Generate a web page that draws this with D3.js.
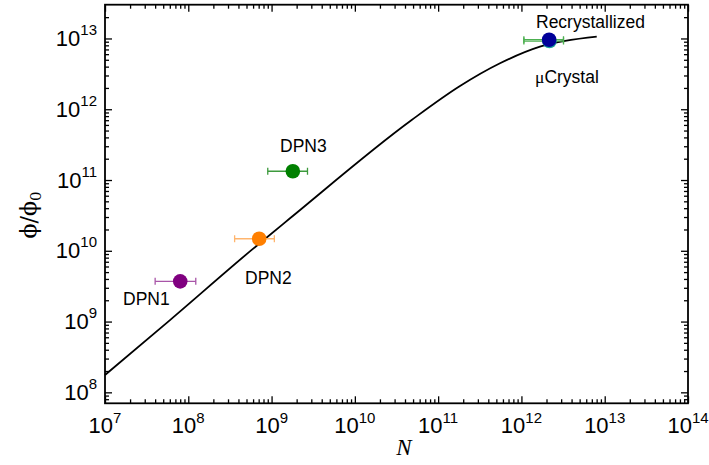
<!DOCTYPE html>
<html>
<head>
<meta charset="utf-8">
<script src="https://cdn.jsdelivr.net/npm/d3@7"></script>
<style>
  html, body { margin: 0; padding: 0; background: #fff; }
  svg { display: block; }
  text { font-family: "Liberation Sans", Arial, sans-serif; fill: #000; }
</style>
</head>
<body>
<svg id="chart" width="709" height="465"></svg>
<script>
// Model curve: phi/phi0 versus N
const curveN   = [1e7, 6.03e7, 5.77e8, 1.665e9, 4.81e10, 1.83e11, 5.53e11, 1.67e12, 8.02e12];
const curvePhi = [1.76e8, 1.05e9, 1.03e10, 2.88e10, 7.05e11, 2.13e12, 4.46e12, 7.66e12, 1.06e13];

// Measured samples
const sampleNames  = ["DPN1", "DPN2", "DPN3", "\u03BCCrystal", "Recrystallized"];
const sampleN      = [8e7, 7.1e8, 1.8e9, 2.17e12, 2.15e12];
const samplePhi    = [3.7e9, 1.48e10, 1.33e11, 9.2e12, 9.6e12];
const sampleNLow   = [4e7, 3.6e8, 9e8, 1.07e12, 1.07e12];
const sampleNHigh  = [1.23e8, 1.08e9, 2.7e9, 3.2e12, 3.2e12];
const sampleColors = ["#800080", "#ff7f00", "#008000", "#1aa39a", "#000099"];
const errColors    = ["#a855a8", "#ffb56e", "#3d9a3d", "#4caf50", "#4caf50"];

// Axis tick values
const xMajor = [1e7, 1e8, 1e9, 1e10, 1e11, 1e12, 1e13, 1e14];
const xExp   = [7, 8, 9, 10, 11, 12, 13, 14];
const yMajor = [1e8, 1e9, 1e10, 1e11, 1e12, 1e13];
const yExp   = [8, 9, 10, 11, 12, 13];

const svg = d3.select("#chart");
const L = 105, R = 688, T = 4.7, B = 403.3;

const x = d3.scaleLog().domain([1e7, 1e14]).range([L, R]);
const y = d3.scaleLog().domain([7e7, 3e13]).range([B, T]);

function minors(lo, hi) {
  const out = [];
  for (let e = Math.floor(Math.log10(lo)); e <= Math.ceil(Math.log10(hi)); e++) {
    for (let m = 2; m <= 9; m++) {
      const v = m * Math.pow(10, e);
      if (v > lo && v < hi) out.push(v);
    }
  }
  return out;
}
const xMinor = minors(1e7, 1e14);
const yMinor = minors(7e7, 3e13);

function styleAxis(g) {
  g.select(".domain").remove();
  g.selectAll("line").attr("stroke", "#000").attr("stroke-width", 1.3);
}

// Inward ticks on all four sides
const axes = [
  [d3.axisBottom(x), `translate(0,${B})`, xMajor, xMinor],
  [d3.axisTop(x), `translate(0,${T})`, xMajor, xMinor],
  [d3.axisLeft(y), `translate(${L},0)`, yMajor, yMinor],
  [d3.axisRight(y), `translate(${R},0)`, yMajor, yMinor]
];
axes.forEach(([ax, tr, maj, min]) => {
  svg.append("g").attr("transform", tr)
    .call(ax.tickValues(maj).tickSize(-7).tickFormat(""))
    .call(styleAxis);
  svg.append("g").attr("transform", tr)
    .call(ax.tickValues(min).tickSize(-4).tickFormat(""))
    .call(styleAxis);
});

// Frame
svg.append("rect")
  .attr("x", L).attr("y", T).attr("width", R - L).attr("height", B - T)
  .attr("fill", "none").attr("stroke", "#000").attr("stroke-width", 1.8);

// X tick labels
svg.append("g").selectAll("text").data(xMajor).join("text")
  .attr("x", d => x(d)).attr("y", 433.3).attr("text-anchor", "middle")
  .each(function(d, i) {
    const t = d3.select(this);
    t.append("tspan").attr("font-size", 22).text("10");
    t.append("tspan").attr("font-size", 15).attr("dy", -10).text(xExp[i]);
  });

// Y tick labels
svg.append("g").selectAll("text").data(yMajor).join("text")
  .attr("x", 97).attr("y", d => y(d) + 7.5).attr("text-anchor", "end")
  .each(function(d, i) {
    const t = d3.select(this);
    t.append("tspan").attr("font-size", 22).text("10");
    t.append("tspan").attr("font-size", 15).attr("dy", -11).text(yExp[i]);
  });

// Axis titles
svg.append("text")
  .attr("x", 404).attr("y", 455).attr("text-anchor", "middle")
  .style("font-family", "'Liberation Serif', 'Times New Roman', serif")
  .style("font-style", "italic").attr("font-size", 23).text("N");

const yt = svg.append("text")
  .attr("transform", "translate(36,215) rotate(-90)")
  .attr("text-anchor", "middle")
  .style("font-family", "'DejaVu Serif', 'Liberation Serif', serif")
  .attr("font-size", 22);
yt.append("tspan").text("\u03D5/\u03D5");
yt.append("tspan").attr("font-size", 15).attr("dy", 5).text("0");

// Model curve
const line = d3.line().x((d, i) => x(curveN[i])).y((d, i) => y(curvePhi[i])).curve(d3.curveMonotoneX);
svg.append("path").datum(curveN).attr("d", line)
  .attr("fill", "none").attr("stroke", "#000").attr("stroke-width", 1.8);

// Error bars and markers
sampleNames.forEach((name, i) => {
  const g = svg.append("g");
  const cy = y(samplePhi[i]);
  const x0 = x(sampleNLow[i]), x1 = x(sampleNHigh[i]);
  g.append("line").attr("x1", x0).attr("x2", x1).attr("y1", cy).attr("y2", cy)
    .attr("stroke", errColors[i]).attr("stroke-width", 1.3);
  [x0, x1].forEach(cx => g.append("line").attr("x1", cx).attr("x2", cx)
    .attr("y1", cy - 3.5).attr("y2", cy + 3.5)
    .attr("stroke", errColors[i]).attr("stroke-width", 1.3));
  g.append("circle").attr("cx", x(sampleN[i])).attr("cy", cy).attr("r", 7.3)
    .attr("fill", sampleColors[i]);
});

// Sample labels
const labelPos = [[123, 305], [245, 284], [280, 152], [535, 82.5], [536, 27.5]];
sampleNames.forEach((name, i) => {
  const t = svg.append("text").attr("x", labelPos[i][0]).attr("y", labelPos[i][1])
    .attr("font-size", 17.5);
  if (name.startsWith("\u03BC")) {
    t.append("tspan").style("font-family", "'Liberation Serif', 'Times New Roman', serif").text("\u03BC");
    t.append("tspan").text(name.slice(1));
  } else {
    t.text(name);
  }
});
</script>
</body>
</html>
